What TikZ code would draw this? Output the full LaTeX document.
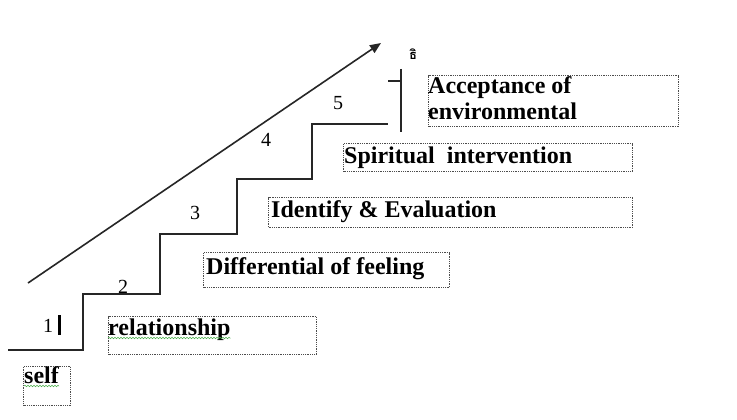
\documentclass[tikz,border=0pt]{standalone}
\usepackage{fontspec}
\setmainfont{Liberation Serif}
\newfontfamily\thaifont[Script=Thai]{Loma}
\usetikzlibrary{arrows.meta,decorations.pathmorphing}
\begin{document}
\begin{tikzpicture}[x=1pt,y=-1pt,
  dbox/.style={draw=black!70, dash pattern=on 0.9pt off 0.9pt, line width=1.3pt, inner sep=0pt, anchor=north west},
  lbl/.style={font=\fontsize{24}{26}\selectfont\bfseries, inner sep=0pt, anchor=base west},
  num/.style={font=\fontsize{20}{21}\selectfont, inner sep=0pt},
  stair/.style={draw=black!85, line width=1.6pt},
  spell/.style={draw=green!55!black!70, line width=0.5pt, decorate, decoration={snake, amplitude=0.8pt, segment length=3pt}}]
\useasboundingbox (0,0) rectangle (737,420);
\fill[white] (0,0) rectangle (737,420);

% staircase
\coordinate (s0) at (8,350);
\coordinate (s1) at (83,350);
\coordinate (s2) at (83,294);
\coordinate (s3) at (160,294);
\coordinate (s4) at (160,234);
\coordinate (s5) at (237,234);
\coordinate (s6) at (237,179);
\coordinate (s7) at (312,179);
\coordinate (s8) at (312,124);
\coordinate (s9) at (388,124);
\draw[stair] (s0) -- (s1) -- (s2) -- (s3) -- (s4) -- (s5) -- (s6) -- (s7) -- (s8) -- (s9);

% top post with tick
\coordinate (p0) at (401,69);
\coordinate (p1) at (401,132);
\coordinate (t0) at (388,81);
\draw[stair] (p0) -- (p1);
\draw[stair] (t0) -- (p0 |- t0);

% arrow
\coordinate (a0) at (28,283);
\coordinate (a1) at (381,43);
\draw[draw=black!85, line width=1.6pt, -{Triangle[length=11pt,width=9pt]}] (a0) -- (a1);

% numbers
\node[num] (n1) at (48,326) {1};
\coordinate (c0) at (59.5,315);
\coordinate (c1) at (59.5,335);
\draw[line width=2.2pt] (c0) -- (c1);
\node[num] (n2) at (123,287) {2};
\node[num] (n3) at (195,213) {3};
\node[num] (n4) at (266,140) {4};
\node[num] (n5) at (338,103) {5};
\node[inner sep=0pt] (g) at (413,54) {\thaifont\fontsize{13}{13}\selectfont\bfseries ธิ};

% boxes
\node[dbox, minimum width=47pt, minimum height=39pt] (bself) at (23,366) {};
\node[dbox, minimum width=208pt, minimum height=38pt] (brel) at (108,316) {};
\node[dbox, minimum width=246pt, minimum height=35pt] (bdiff) at (203,252) {};
\node[dbox, minimum width=364pt, minimum height=30pt] (bid) at (268,197) {};
\node[dbox, minimum width=289pt, minimum height=28pt] (bspi) at (343,143) {};
\node[dbox, minimum width=250pt, minimum height=51pt] (bacc) at (428,75) {};

% labels
\node[lbl] (tself) at (24,383) {self};
\node[lbl] (trel) at (108,335) {relationship};
\node[lbl] (tdiff) at (206,274) {Differential of feeling};
\node[lbl] (tid) at (271,217) {Identify \& Evaluation};
\node[lbl] (tspi) at (344,163) {Spiritual\ \ intervention};
\node[lbl] (tacc1) at (428,93) {Acceptance of};
\node[lbl] (tacc2) at (428,119) {environmental};

% spell-check underlines
\draw[spell] ([yshift=-3pt]tself.base west) -- ([yshift=-3pt]tself.base east);
\draw[spell] ([yshift=-3pt]trel.base west) -- ([yshift=-3pt]trel.base east);
\end{tikzpicture}
\end{document}
